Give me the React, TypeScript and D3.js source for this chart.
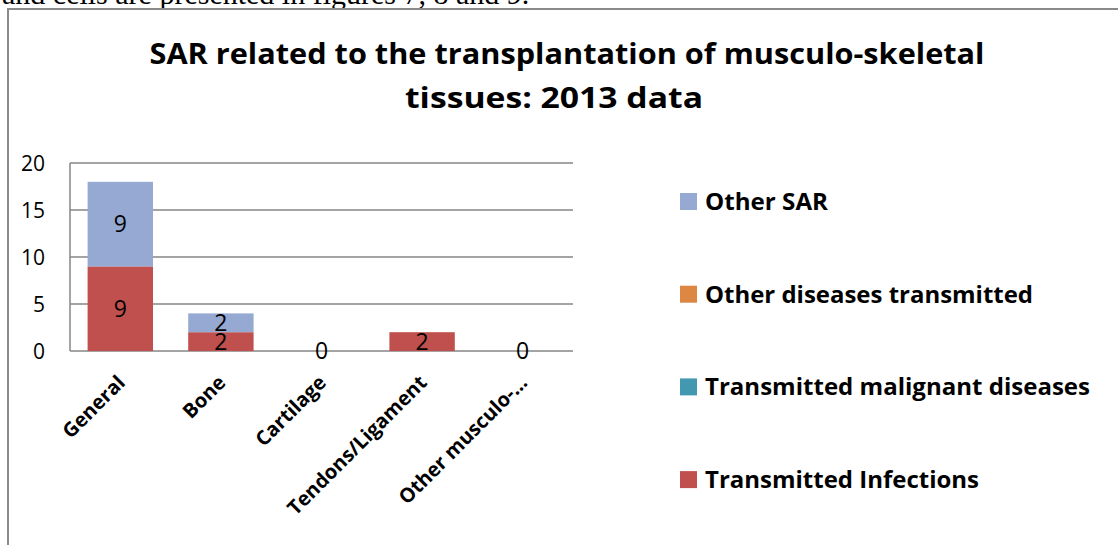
import React, { useEffect, useRef } from 'react';
import * as d3 from 'd3';

// Chart data
const categories = ['General', 'Bone', 'Cartilage', 'Tendons/Ligament', 'Other musculo-…'];
const seriesNames = ['Transmitted Infections', 'Transmitted malignant diseases', 'Other diseases transmitted', 'Other SAR'];
const transmittedInfections = [9, 2, 0, 2, 0];
const transmittedMalignant = [0, 0, 0, 0, 0];
const otherDiseases = [0, 0, 0, 0, 0];
const otherSAR = [9, 2, 0, 0, 0];
const yTicks = [0, 5, 10, 15, 20];
const legendOrder = ['Other SAR', 'Other diseases transmitted', 'Transmitted malignant diseases', 'Transmitted Infections'];
const legendWidths = [123, 328, 385, 274];
const titleLines = ['SAR related to the transplantation of musculo-skeletal', 'tissues: 2013 data'];
const titleWidths = [835, 298];
const titleCenters = [567, 554];

const colors: Record<string, string> = {
  'Transmitted Infections': '#c0504d',
  'Transmitted malignant diseases': '#4298b0',
  'Other diseases transmitted': '#dd8743',
  'Other SAR': '#95a9d3',
};

const FONT = '"Open Sans", Lato, sans-serif';

export default function App() {
  const svgRef = useRef<SVGSVGElement>(null);

  useEffect(() => {
    if (!svgRef.current) return;
    const svg = d3.select(svgRef.current);
    svg.selectAll('*').remove();

    const W = 1118, H = 545;
    const plot = { left: 70, right: 573, top: 163, bottom: 351 };

    // page text cut off above the figure
    svg.append('text')
      .attr('x', 2).attr('y', 3.5)
      .attr('font-family', '"Liberation Serif", "Times New Roman", serif')
      .attr('font-size', 30)
      .attr('fill', '#000')
      .text('and cells are presented in figures 7, 8 and 9.');

    // chart frame
    svg.append('rect')
      .attr('x', 8).attr('y', 9)
      .attr('width', W + 20).attr('height', H + 20)
      .attr('fill', '#fff')
      .attr('stroke', '#8a8a8a')
      .attr('stroke-width', 2);

    // title
    titleLines.forEach((t, i) => {
      svg.append('text')
        .attr('x', titleCenters[i]).attr('y', 64 + i * 44)
        .attr('text-anchor', 'middle')
        .attr('font-family', FONT)
        .attr('font-weight', 700)
        .attr('font-size', 29)
        .attr('textLength', titleWidths[i])
        .attr('lengthAdjust', 'spacingAndGlyphs')
        .attr('fill', '#000')
        .text(t);
    });

    const x = d3.scaleBand<string>()
      .domain(categories)
      .range([plot.left, plot.right])
      .paddingInner(0.35)
      .paddingOuter(0.175);

    const y = d3.scaleLinear().domain([0, 20]).range([plot.bottom, plot.top]);

    // gridlines
    svg.append('g')
      .selectAll('line')
      .data(yTicks)
      .join('line')
      .attr('x1', plot.left).attr('x2', plot.right)
      .attr('y1', d => y(d)).attr('y2', d => y(d))
      .attr('stroke', '#868686')
      .attr('stroke-width', 1.5);

    // y axis line
    svg.append('line')
      .attr('x1', plot.left).attr('x2', plot.left)
      .attr('y1', plot.top).attr('y2', plot.bottom)
      .attr('stroke', '#868686')
      .attr('stroke-width', 1.5);

    // y tick labels
    svg.append('g')
      .selectAll('text')
      .data(yTicks)
      .join('text')
      .attr('x', 45)
      .attr('y', d => y(d))
      .attr('dy', '0.36em')
      .attr('text-anchor', 'end')
      .attr('font-family', FONT)
      .attr('font-size', 21)
      .attr('fill', '#000')
      .text(d => d);

    // stacked bars
    const rows = categories.map((c, i) => ({
      category: c,
      'Transmitted Infections': transmittedInfections[i],
      'Transmitted malignant diseases': transmittedMalignant[i],
      'Other diseases transmitted': otherDiseases[i],
      'Other SAR': otherSAR[i],
    }));
    const stack = d3.stack<any>().keys(seriesNames)(rows);

    const layers = svg.append('g')
      .selectAll('g')
      .data(stack)
      .join('g')
      .attr('fill', d => colors[d.key]);

    layers.selectAll('rect')
      .data(d => d)
      .join('rect')
      .attr('x', d => x(d.data.category)!)
      .attr('width', x.bandwidth())
      .attr('y', d => y(d[1]))
      .attr('height', d => y(d[0]) - y(d[1]));

    // data labels: non-zero segments, plus the zero label of empty columns
    const labels: { cx: number; cy: number; v: number }[] = [];
    stack.forEach(layer => {
      layer.forEach((d, i) => {
        const v = d[1] - d[0];
        const total = transmittedInfections[i] + transmittedMalignant[i] + otherDiseases[i] + otherSAR[i];
        const show = v > 0 || (layer.key === 'Transmitted Infections' && total === 0);
        if (show) {
          labels.push({
            cx: x(d.data.category)! + x.bandwidth() / 2,
            cy: (y(d[0]) + y(d[1])) / 2,
            v,
          });
        }
      });
    });
    svg.append('g')
      .selectAll('text')
      .data(labels)
      .join('text')
      .attr('x', d => d.cx)
      .attr('y', d => d.cy)
      .attr('dy', '0.36em')
      .attr('text-anchor', 'middle')
      .attr('font-family', FONT)
      .attr('font-size', 23)
      .attr('fill', '#000')
      .text(d => d.v);

    // x labels, rotated
    svg.append('g')
      .selectAll('text')
      .data(categories)
      .join('text')
      .attr('transform', d => `translate(${x(d)! + x.bandwidth() / 2 + 1},${plot.bottom + 28}) rotate(-45)`)
      .attr('text-anchor', 'end')
      .attr('dy', '0.35em')
      .attr('font-family', FONT)
      .attr('font-weight', 700)
      .attr('font-size', 20)
      .attr('fill', '#000')
      .text(d => d);

    // legend
    const legend = svg.append('g')
      .selectAll('g')
      .data(legendOrder)
      .join('g')
      .attr('transform', (d, i) => `translate(680,${210 + i * 92.7})`);
    legend.append('rect')
      .attr('x', 0).attr('y', -17)
      .attr('width', 17).attr('height', 17)
      .attr('fill', d => colors[d]);
    legend.append('text')
      .attr('x', 25).attr('y', 0)
      .attr('font-family', FONT)
      .attr('font-weight', 700)
      .attr('font-size', 24)
      .attr('textLength', (d, i) => legendWidths[i])
      .attr('lengthAdjust', 'spacingAndGlyphs')
      .attr('fill', '#000')
      .text(d => d);
  }, []);

  return (
    <div style={{ position: 'fixed', left: 0, top: 0, width: 1118, height: 545, background: '#fff', overflow: 'hidden' }}>
      <svg ref={svgRef} width={1118} height={545} style={{ display: 'block' }} />
    </div>
  );
}
